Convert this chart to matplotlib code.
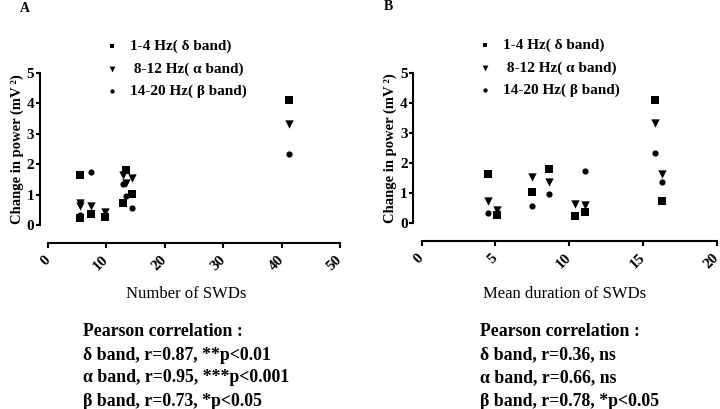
import numpy as np
import matplotlib
matplotlib.use('Agg')
import matplotlib.pyplot as plt

plt.rcParams['font.family'] = ['Liberation Serif', 'DejaVu Serif']

# per-animal values
n_swd = [5.4, 5.4, 7.4, 9.7, 12.8, 13.3, 14.3, 41.3]
mean_dur = [4.47, 10.4, 11.1, 5.1, 16.3, 8.63, 7.5, 15.8]
delta_pow = [1.63, 0.24, 0.37, 0.27, 0.72, 1.81, 1.03, 4.1]
alpha_pow = [0.72, 0.64, 0.61, 0.44, 1.63, 1.37, 1.53, 3.32]
beta_pow = [0.33, 0.25, 1.73, 0.25, 1.35, 0.95, 0.55, 2.32]

band_labels = ['1-4 Hz( \u03b4 band)', ' 8-12 Hz( \u03b1 band)', '14-20 Hz( \u03b2 band)']
stats_a = ['Pearson correlation :',
           '\u03b4 band, r=0.87, **p<0.01',
           '\u03b1 band, r=0.95, ***p<0.001',
           '\u03b2 band, r=0.73, *p<0.05']
stats_b = ['Pearson correlation :',
           '\u03b4 band, r=0.36, ns',
           '\u03b1 band, r=0.66, ns',
           '\u03b2 band, r=0.78, *p<0.05']

W, H = 720, 409
fig = plt.figure(figsize=(7.2, 4.09), dpi=100)


def px(x0, y0, x1, y1):
    # pixel box (top-left origin) -> figure fraction rect
    return [x0 / W, 1 - y1 / H, (x1 - x0) / W, (y1 - y0) / H]


def panel(rect, xvals, xmax, xticks, xlabel, xlab_pos, leg_pos, stats, stats_x, letter, letter_pos):
    ax = fig.add_axes(rect)
    kw = dict(color='black', clip_on=False, zorder=3, linewidths=0)
    h1 = ax.scatter(xvals, delta_pow, marker='s', s=26, **kw)
    h2 = ax.scatter(xvals, alpha_pow, marker='v', s=36, **kw)
    h3 = ax.scatter(xvals, beta_pow, marker='o', s=20, **kw)
    ax.set_xlim(0, xmax)
    ax.set_ylim(0, 5)
    ax.set_xticks(xticks)
    ax.set_yticks([0, 1, 2, 3, 4, 5])
    for s in ['top', 'right']:
        ax.spines[s].set_visible(False)
    ax.spines['left'].set_position(('outward', 6))
    ax.spines['bottom'].set_position(('outward', 13))
    for s in ['left', 'bottom']:
        ax.spines[s].set_linewidth(1.5)
    ax.tick_params(axis='y', length=3, width=1.5, pad=1, labelsize=11)
    ax.tick_params(axis='x', length=3.5, width=1.5, pad=7, labelsize=11)
    for t in ax.get_yticklabels():
        t.set_fontweight('bold')
    for t in ax.get_xticklabels():
        t.set_fontweight('bold')
        t.set_rotation(45)
        t.set_rotation_mode('anchor')
        t.set_ha('right')
        t.set_va('center')
    ax.set_ylabel('Change in power (mV\u2009\u00b2)', fontsize=10.5, fontweight='bold', labelpad=2)
    fig.text(xlab_pos[0] / W, 1 - xlab_pos[1] / H, xlabel, fontsize=12,
             ha='center', va='center')
    ax.legend([h1, h2, h3], band_labels, loc='upper left',
              bbox_to_anchor=(leg_pos[0] / W, 1 - leg_pos[1] / H),
              bbox_transform=fig.transFigure, frameon=False, borderpad=0,
              borderaxespad=0, handlelength=1, handletextpad=0.68,
              labelspacing=0.56, prop={'weight': 'bold', 'size': 11},
              markerscale=0.7)
    for i, line in enumerate(stats):
        fig.text(stats_x / W, 1 - (332 + 23 * i) / H, line, fontsize=12.8,
                 fontweight='bold', ha='left', va='center')
    fig.text(letter_pos[0] / W, 1 - letter_pos[1] / H, letter, fontsize=10,
             fontweight='bold', ha='center', va='center')
    return ax


panel(px(48, 73, 340, 225), n_swd, 50, [0, 10, 20, 30, 40, 50],
      'Number of SWDs', (186, 294), (104.4, 39.5), stats_a, 83, 'A', (25, 9))
panel(px(421.7, 72.7, 716.7, 223), mean_dur, 20, [0, 5, 10, 15, 20],
      'Mean duration of SWDs', (565, 294), (477.4, 38.5), stats_b, 480, 'B', (388, 7))

fig.savefig('out.png', dpi=100, facecolor='white')
